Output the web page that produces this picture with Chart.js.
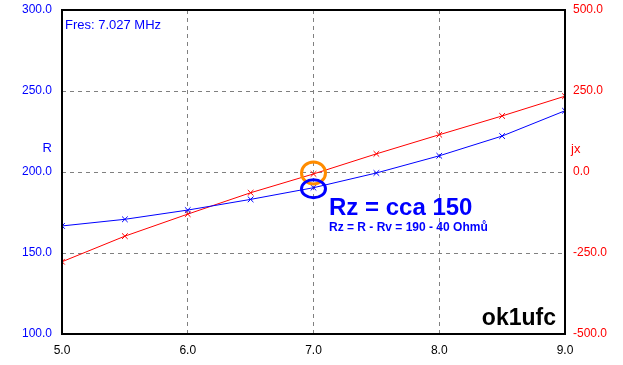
<!DOCTYPE html>
<html>
<head>
<meta charset="utf-8">
<script src="https://cdn.jsdelivr.net/npm/chart.js@4/dist/chart.umd.min.js"></script>
<style>
    html, body { margin: 0; padding: 0; background: #fff; }
    #wrap { width: 623px; height: 365px; }
</style>
</head>
<body>
<div id="wrap"><canvas id="chart" width="623" height="365"></canvas></div>
<script>
// Data
const freqs = [5.0, 5.5, 6.0, 6.5, 7.0, 7.5, 8.0, 8.5, 9.0];
const rValues = [166.7, 170.8, 176.5, 183.1, 190.3, 199.4, 210.0, 222.2, 237.8];
const jxValues = [-277, -198, -130, -64, -6, 56, 115, 173, 234];
const leftTicks = [100, 150, 200, 250, 300];
const rightTicks = [-500, -250, 0, 250, 500];

const FONT = 'Liberation Sans, Arial, sans-serif';
const BLUE = '#0000ff';
const RED = '#ff0000';

// Frame, labels and circles
const overlay = {
    id: 'overlay',
    afterDraw(c) {
        const ctx = c.ctx;
        const a = c.chartArea;
        const xs = c.scales.x, yl = c.scales.yR, yr = c.scales.yJ;
        ctx.save();
        ctx.strokeStyle = '#000';
        ctx.lineWidth = 2;
        ctx.strokeRect(a.left, a.top, a.right - a.left, a.bottom - a.top);

        ctx.textBaseline = 'middle';
        ctx.font = '13px ' + FONT;
        ctx.fillStyle = BLUE;
        ctx.textAlign = 'left';
        ctx.fillText('Fres: 7.027 MHz', a.left + 3, 25);
        ctx.textAlign = 'right';
        ctx.fillText('R', 52, 148);
        ctx.fillStyle = RED;
        ctx.textAlign = 'left';
        ctx.fillText('jx', 571, 149);

        ctx.fillStyle = BLUE;
        ctx.font = 'bold 24px ' + FONT;
        ctx.fillText('Rz = cca 150', 329, 208);
        ctx.font = 'bold 12px ' + FONT;
        ctx.fillText('Rz = R - Rv = 190 - 40 Ohmů', 329, 228);

        ctx.fillStyle = '#000';
        ctx.font = 'bold 23px ' + FONT;
        ctx.textAlign = 'right';
        ctx.fillText('ok1ufc', a.right - 9, 319);

        const cx = xs.getPixelForValue(7.0);
        ctx.lineWidth = 3;
        ctx.strokeStyle = '#ff8c00';
        ctx.beginPath();
        ctx.ellipse(cx, yr.getPixelForValue(jxValues[4]) - 1, 12, 11, 0, 0, Math.PI * 2);
        ctx.stroke();
        ctx.strokeStyle = BLUE;
        ctx.beginPath();
        ctx.ellipse(cx, yl.getPixelForValue(rValues[4]) + 1, 12, 9, 0, 0, Math.PI * 2);
        ctx.stroke();
        ctx.restore();
    }
};

// fixed axis sizes so the plot area sits where the original one does
function fixVertical(width) {
    return s => { s.width = width; s.paddingTop = 0; s.paddingBottom = 0; };
}

new Chart(document.getElementById('chart'), {
    type: 'line',
    data: {
        datasets: [
            {
                label: 'R',
                data: freqs.map((f, i) => ({ x: f, y: rValues[i] })),
                borderColor: BLUE,
                backgroundColor: BLUE,
                borderWidth: 1,
                pointStyle: 'crossRot',
                pointRadius: 4,
                pointBorderWidth: 1,
                yAxisID: 'yR'
            },
            {
                label: 'jx',
                data: freqs.map((f, i) => ({ x: f, y: jxValues[i] })),
                borderColor: RED,
                backgroundColor: RED,
                borderWidth: 1,
                pointStyle: 'crossRot',
                pointRadius: 4,
                pointBorderWidth: 1,
                yAxisID: 'yJ'
            }
        ]
    },
    options: {
        responsive: false,
        animation: false,
        layout: { padding: { top: 10, left: 0, right: 0, bottom: 0 } },
        plugins: { legend: { display: false }, tooltip: { enabled: false } },
        scales: {
            x: {
                type: 'linear',
                min: 5, max: 9,
                afterFit: s => { s.height = 31; s.paddingLeft = 0; s.paddingRight = 0; },
                border: { display: false, dash: [4, 4] },
                grid: { color: '#808080', drawTicks: false, lineWidth: 1 },
                ticks: {
                    stepSize: 1, padding: 9, color: '#000',
                    font: { family: FONT, size: 12 },
                    callback: v => v.toFixed(1)
                }
            },
            yR: {
                position: 'left',
                min: 100, max: 300,
                afterFit: fixVertical(62),
                afterBuildTicks: s => { s.ticks = leftTicks.map(v => ({ value: v })); },
                border: { display: false, dash: [4, 4] },
                grid: { color: '#808080', drawTicks: false },
                ticks: {
                    padding: 10, color: BLUE,
                    font: { family: FONT, size: 12 },
                    callback: v => v.toFixed(1)
                }
            },
            yJ: {
                position: 'right',
                min: -500, max: 500,
                afterFit: fixVertical(58),
                afterBuildTicks: s => { s.ticks = rightTicks.map(v => ({ value: v })); },
                border: { display: false },
                grid: { display: false, drawTicks: false },
                ticks: {
                    padding: 8, color: RED,
                    font: { family: FONT, size: 12 },
                    callback: v => v.toFixed(1)
                }
            }
        }
    },
    plugins: [overlay]
});
</script>
</body>
</html>
